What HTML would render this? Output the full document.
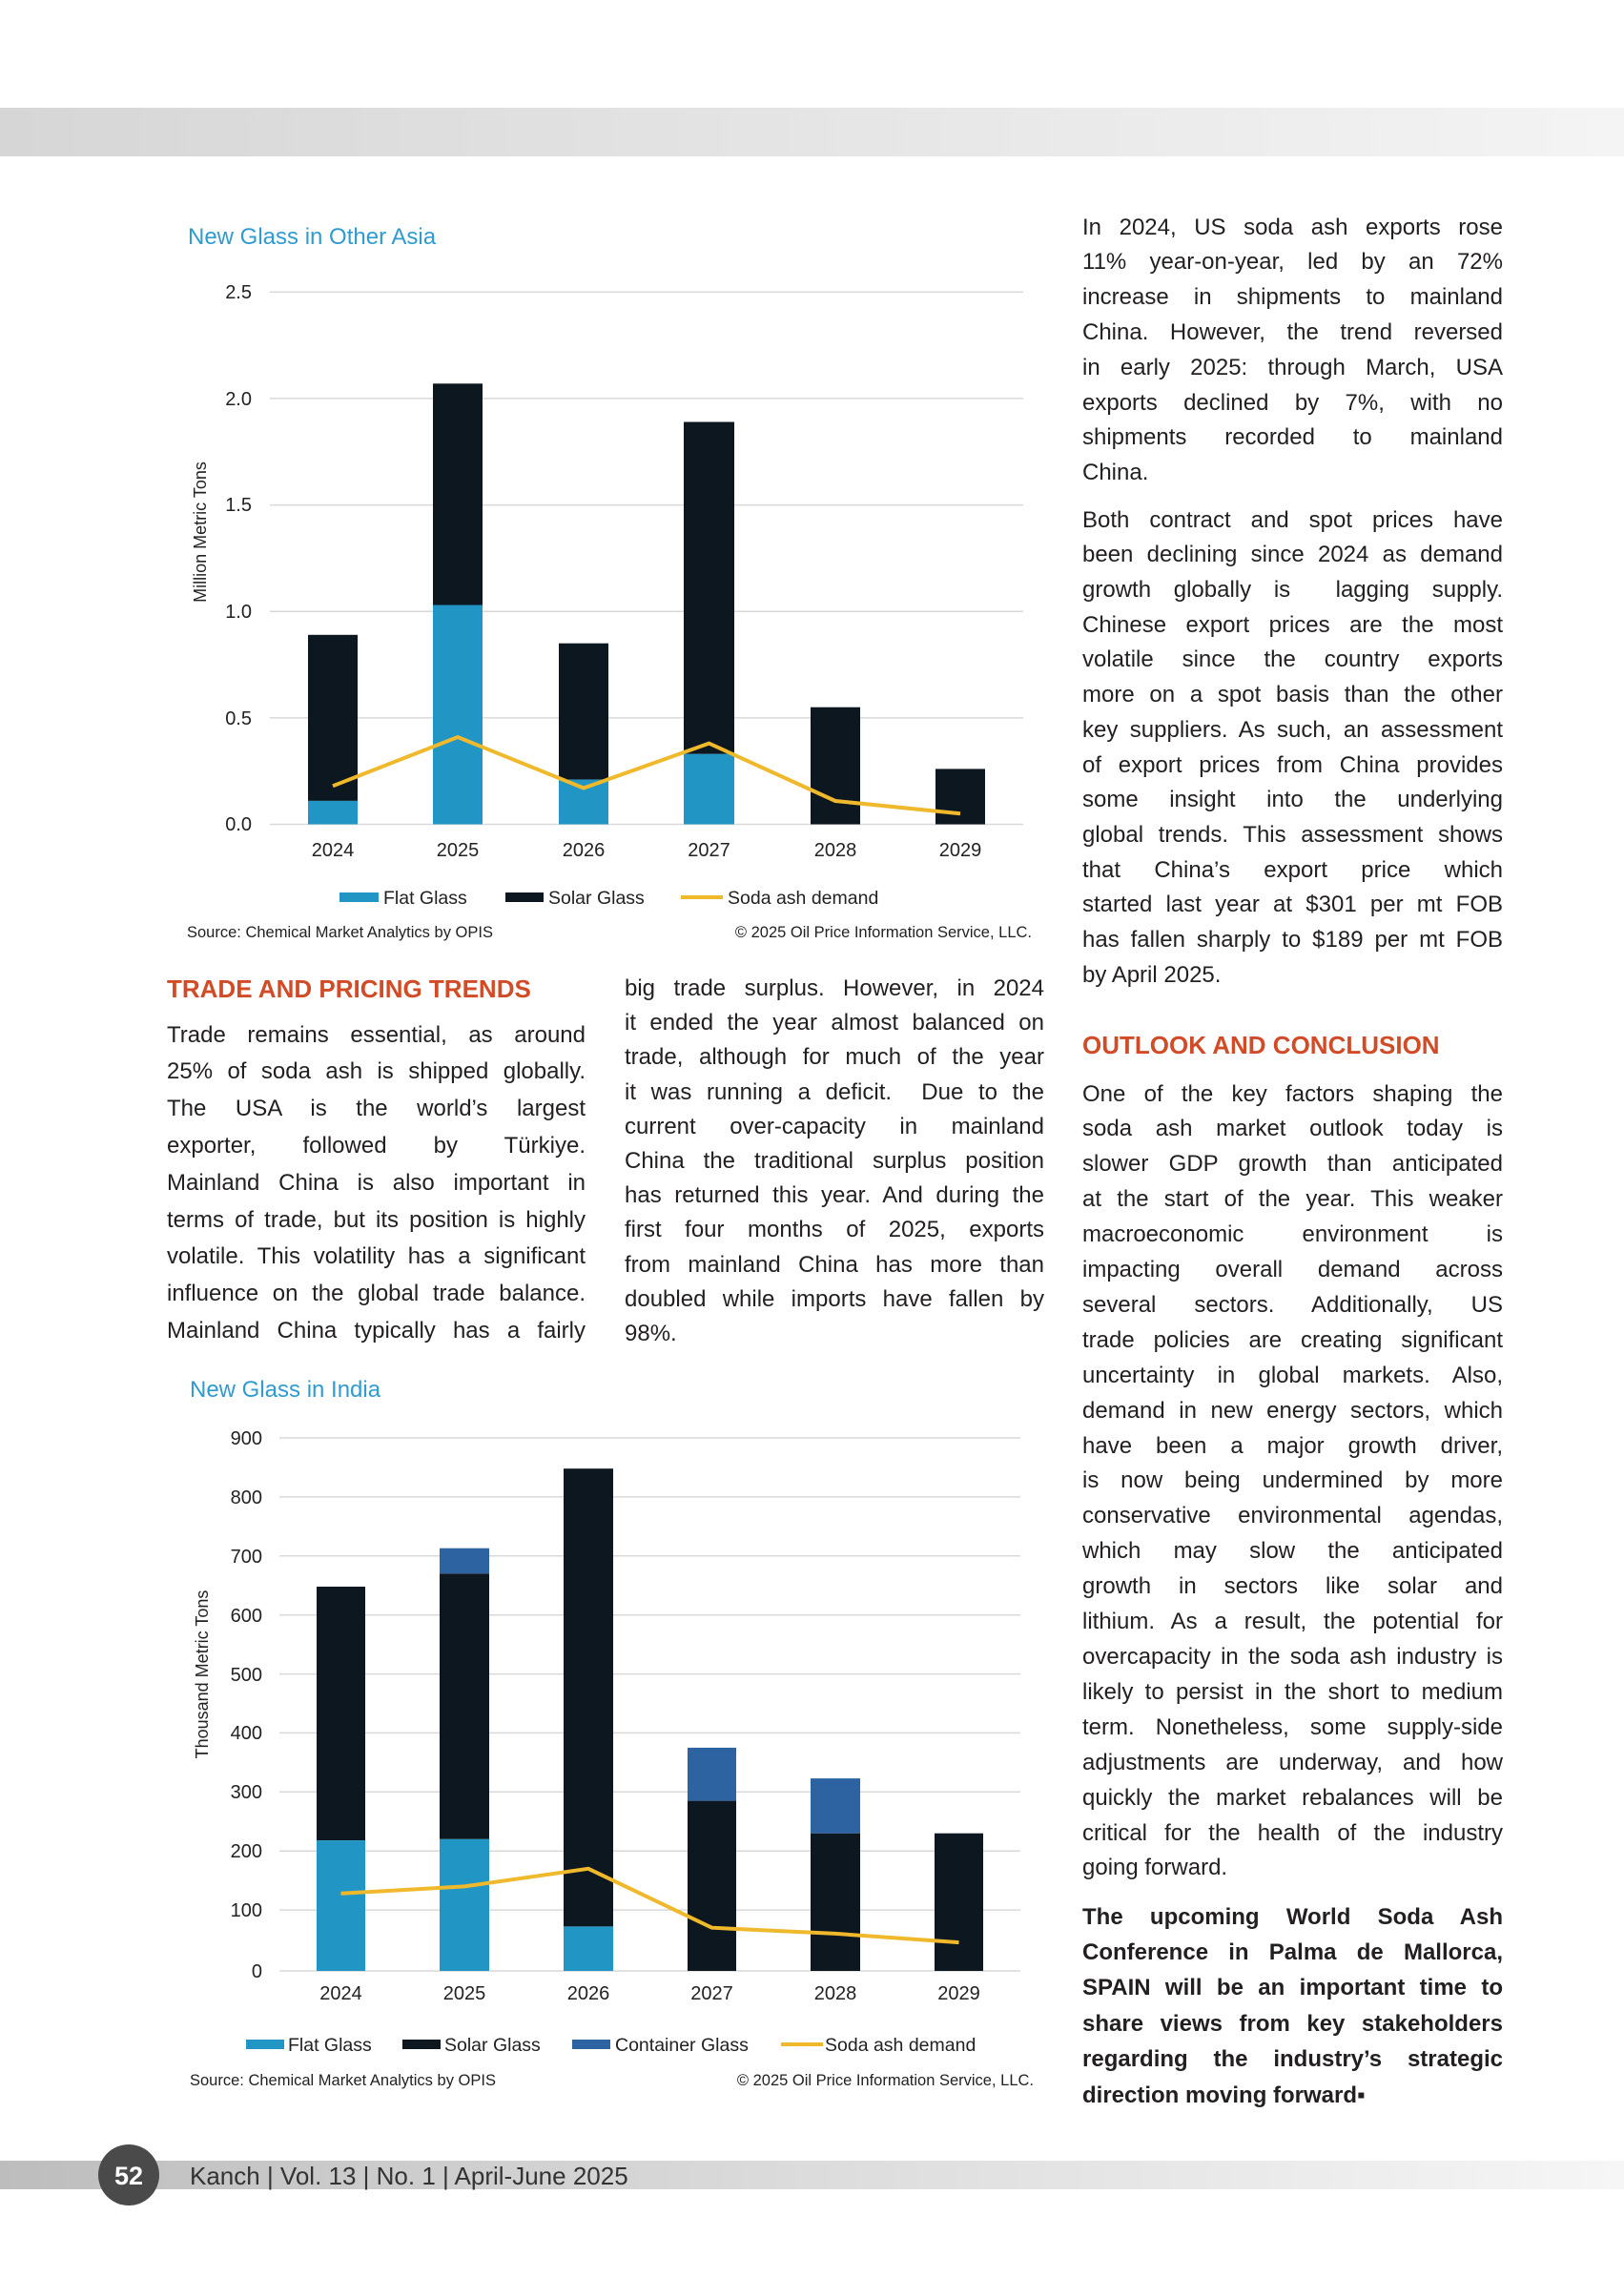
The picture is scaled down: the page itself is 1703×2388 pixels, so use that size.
<!DOCTYPE html>
<html><head><meta charset="utf-8">
<style>
html,body{margin:0;padding:0;background:#fff;}
body{width:1703px;height:2388px;position:relative;overflow:hidden;font-family:"Liberation Sans",sans-serif;color:#231f20;}
svg{position:absolute;left:0;top:0;}
.col{position:absolute;font-size:24px;}
.col div{white-space:nowrap;text-align:justify;text-align-last:justify;}
.col div.l{text-align-last:left;}
.h{position:absolute;font-weight:bold;color:#d24b27;font-size:26px;line-height:30px;}
</style></head><body>
<svg width="1703" height="2388" viewBox="0 0 1703 2388" font-family="Liberation Sans, sans-serif">
<defs>
<linearGradient id="g1" x1="0" x2="1"><stop offset="0" stop-color="#d6d6d6"/><stop offset="1" stop-color="#f4f4f4"/></linearGradient>
<linearGradient id="g2" x1="0" x2="1"><stop offset="0" stop-color="#bdbdbd"/><stop offset="0.5" stop-color="#dcdcdc"/><stop offset="1" stop-color="#f6f6f6"/></linearGradient>
</defs>
<rect x="0" y="113" width="1703" height="51" fill="url(#g1)"/>
<rect x="0" y="2266" width="1703" height="30" fill="url(#g2)"/>
<circle cx="135" cy="2281" r="32" fill="#4a4a4a"/>
<text x="135" y="2291" text-anchor="middle" font-size="27" font-weight="bold" fill="#fff">52</text>
<text x="199" y="2291" font-size="26" fill="#333">Kanch | Vol. 13 | No. 1 | April-June 2025</text>

<!-- Chart 1 -->
<text x="197" y="256" font-size="24" fill="#2f9bd0">New Glass in Other Asia</text>
<g stroke="#d9d9d9" stroke-width="1.5">
<line x1="283" x2="1073" y1="306.3" y2="306.3"/><line x1="283" x2="1073" y1="417.9" y2="417.9"/>
<line x1="283" x2="1073" y1="529.6" y2="529.6"/><line x1="283" x2="1073" y1="641.2" y2="641.2"/>
<line x1="283" x2="1073" y1="752.9" y2="752.9"/><line x1="283" x2="1073" y1="864.5" y2="864.5"/>
</g>
<g font-size="20" fill="#222" text-anchor="end">
<text x="264" y="313">2.5</text><text x="264" y="425">2.0</text><text x="264" y="536">1.5</text>
<text x="264" y="648">1.0</text><text x="264" y="760">0.5</text><text x="264" y="871">0.0</text>
</g>
<text transform="translate(216,558) rotate(-90)" text-anchor="middle" font-size="18" fill="#222">Million Metric Tons</text>
<g fill="#0d1720">
<rect x="323" y="665.8" width="52" height="174.1"/><rect x="454" y="402.3" width="52" height="232.2"/>
<rect x="586" y="674.7" width="52" height="142.9"/><rect x="717" y="442.5" width="53" height="348.3"/>
<rect x="850" y="741.7" width="52" height="122.8"/><rect x="981" y="806.4" width="52" height="58.1"/>
</g>
<g fill="#2196c4">
<rect x="323" y="839.9" width="52" height="24.6"/><rect x="454" y="634.5" width="52" height="230"/>
<rect x="586" y="817.6" width="52" height="46.9"/><rect x="717" y="790.8" width="53" height="73.7"/>
</g>
<polyline points="349,824.3 480,773 612,826.5 743.5,779.6 876,840 1007,853.3" fill="none" stroke="#f0b92b" stroke-width="4"/>
<g font-size="20" fill="#222" text-anchor="middle">
<text x="349" y="898">2024</text><text x="480" y="898">2025</text><text x="612" y="898">2026</text>
<text x="743.5" y="898">2027</text><text x="876" y="898">2028</text><text x="1007" y="898">2029</text>
</g>
<rect x="356" y="936" width="41" height="10" fill="#2196c4"/>
<rect x="530" y="936" width="40" height="10" fill="#0d1720"/>
<rect x="714" y="939" width="44" height="4" fill="#f0b92b"/>
<g font-size="19.5" fill="#222">
<text x="402" y="948">Flat Glass</text><text x="575" y="948">Solar Glass</text><text x="763" y="948">Soda ash demand</text>
</g>
<text x="196" y="983" font-size="16.5" fill="#222">Source: Chemical Market Analytics by OPIS</text>
<text x="1082" y="983" font-size="16.5" fill="#222" text-anchor="end">© 2025 Oil Price Information Service, LLC.</text>

<!-- Chart 2 -->
<text x="199" y="1465" font-size="24" fill="#2f9bd0">New Glass in India</text>
<g stroke="#d9d9d9" stroke-width="1.5">
<line x1="293" x2="1070" y1="1508" y2="1508"/><line x1="293" x2="1070" y1="1569.9" y2="1569.9"/>
<line x1="293" x2="1070" y1="1631.8" y2="1631.8"/><line x1="293" x2="1070" y1="1693.7" y2="1693.7"/>
<line x1="293" x2="1070" y1="1755.6" y2="1755.6"/><line x1="293" x2="1070" y1="1817.4" y2="1817.4"/>
<line x1="293" x2="1070" y1="1879.3" y2="1879.3"/><line x1="293" x2="1070" y1="1941.2" y2="1941.2"/>
<line x1="293" x2="1070" y1="2003.1" y2="2003.1"/><line x1="293" x2="1070" y1="2067" y2="2067"/>
</g>
<g font-size="20" fill="#222" text-anchor="end">
<text x="275" y="1515">900</text><text x="275" y="1577">800</text><text x="275" y="1639">700</text>
<text x="275" y="1701">600</text><text x="275" y="1763">500</text><text x="275" y="1824">400</text>
<text x="275" y="1886">300</text><text x="275" y="1948">200</text><text x="275" y="2010">100</text>
<text x="275" y="2074">0</text>
</g>
<text transform="translate(218,1756) rotate(-90)" text-anchor="middle" font-size="18" fill="#222">Thousand Metric Tons</text>
<g fill="#0d1720">
<rect x="332" y="1664" width="51" height="266.1"/><rect x="461" y="1650.3" width="52" height="278.5"/>
<rect x="591" y="1540.2" width="52" height="480.2"/><rect x="721" y="1888.6" width="51" height="178.4"/>
<rect x="850" y="1922.7" width="52" height="144.3"/><rect x="980" y="1922.7" width="51" height="144.3"/>
</g>
<g fill="#2196c4">
<rect x="332" y="1930.1" width="51" height="136.9"/><rect x="461" y="1928.8" width="52" height="138.2"/>
<rect x="591" y="2020.4" width="52" height="46.6"/>
</g>
<g fill="#2e63a1">
<rect x="461" y="1623.7" width="52" height="26.6"/><rect x="721" y="1832.9" width="51" height="55.7"/>
<rect x="850" y="1865.1" width="52" height="57.6"/>
</g>
<polyline points="357.5,1985.8 487,1978.4 617,1959.8 746.5,2021.7 876,2027.9 1005.5,2037.1" fill="none" stroke="#f0b92b" stroke-width="4"/>
<g font-size="20" fill="#222" text-anchor="middle">
<text x="357.5" y="2097">2024</text><text x="487" y="2097">2025</text><text x="617" y="2097">2026</text>
<text x="746.5" y="2097">2027</text><text x="876" y="2097">2028</text><text x="1005.5" y="2097">2029</text>
</g>
<rect x="258" y="2139" width="40" height="10" fill="#2196c4"/>
<rect x="422" y="2139" width="40" height="10" fill="#0d1720"/>
<rect x="600" y="2139" width="40" height="10" fill="#2e63a1"/>
<rect x="819" y="2142" width="44" height="4" fill="#f0b92b"/>
<g font-size="19.5" fill="#222">
<text x="302" y="2151">Flat Glass</text><text x="466" y="2151">Solar Glass</text>
<text x="645" y="2151">Container Glass</text><text x="865" y="2151">Soda ash demand</text>
</g>
<text x="199" y="2187" font-size="16.5" fill="#222">Source: Chemical Market Analytics by OPIS</text>
<text x="1084" y="2187" font-size="16.5" fill="#222" text-anchor="end">© 2025 Oil Price Information Service, LLC.</text>
</svg>

<div class="h" style="left:175px;top:1022px;">TRADE AND PRICING TRENDS</div>
<div class="col" style="left:175px;top:1066.6px;width:439px;line-height:38.8px;">
<div>Trade remains essential, as around</div>
<div>25% of soda ash is shipped globally.</div>
<div>The USA is the world’s largest</div>
<div>exporter, followed by Türkiye.</div>
<div>Mainland China is also important in</div>
<div>terms of trade, but its position is highly</div>
<div>volatile. This volatility has a significant</div>
<div>influence on the global trade balance.</div>
<div>Mainland China typically has a fairly</div>
</div>

<div class="col" style="left:655px;top:1019px;width:440px;line-height:36.2px;">
<div>big trade surplus. However, in 2024</div>
<div>it ended the year almost balanced on</div>
<div>trade, although for much of the year</div>
<div>it was running a deficit.&nbsp; Due to the</div>
<div>current over-capacity in mainland</div>
<div>China the traditional surplus position</div>
<div>has returned this year. And during the</div>
<div>first four months of 2025, exports</div>
<div>from mainland China has more than</div>
<div>doubled while imports have fallen by</div>
<div class="l">98%.</div>
</div>

<div class="col" style="left:1135px;top:220.6px;width:441px;line-height:36.8px;">
<div>In 2024, US soda ash exports rose</div>
<div>11% year-on-year, led by an 72%</div>
<div>increase in shipments to mainland</div>
<div>China. However, the trend reversed</div>
<div>in early 2025: through March, USA</div>
<div>exports declined by 7%, with no</div>
<div>shipments recorded to mainland</div>
<div class="l">China.</div>
</div>
<div class="col" style="left:1135px;top:527.6px;width:441px;line-height:36.7px;">
<div>Both contract and spot prices have</div>
<div>been declining since 2024 as demand</div>
<div>growth globally is&nbsp; lagging supply.</div>
<div>Chinese export prices are the most</div>
<div>volatile since the country exports</div>
<div>more on a spot basis than the other</div>
<div>key suppliers. As such, an assessment</div>
<div>of export prices from China provides</div>
<div>some insight into the underlying</div>
<div>global trends. This assessment shows</div>
<div>that China’s export price which</div>
<div>started last year at $301 per mt FOB</div>
<div>has fallen sharply to $189 per mt FOB</div>
<div class="l">by April 2025.</div>
</div>
<div class="h" style="left:1135px;top:1081px;">OUTLOOK AND CONCLUSION</div>
<div class="col" style="left:1135px;top:1129.5px;width:441px;line-height:36.9px;">
<div>One of the key factors shaping the</div>
<div>soda ash market outlook today is</div>
<div>slower GDP growth than anticipated</div>
<div>at the start of the year. This weaker</div>
<div>macroeconomic environment is</div>
<div>impacting overall demand across</div>
<div>several sectors. Additionally, US</div>
<div>trade policies are creating significant</div>
<div>uncertainty in global markets. Also,</div>
<div>demand in new energy sectors, which</div>
<div>have been a major growth driver,</div>
<div>is now being undermined by more</div>
<div>conservative environmental agendas,</div>
<div>which may slow the anticipated</div>
<div>growth in sectors like solar and</div>
<div>lithium. As a result, the potential for</div>
<div>overcapacity in the soda ash industry is</div>
<div>likely to persist in the short to medium</div>
<div>term. Nonetheless, some supply-side</div>
<div>adjustments are underway, and how</div>
<div>quickly the market rebalances will be</div>
<div>critical for the health of the industry</div>
<div class="l">going forward.</div>
</div>
<div class="col" style="left:1135px;top:1991.5px;width:441px;line-height:37.4px;font-weight:bold;">
<div>The upcoming World Soda Ash</div>
<div>Conference in Palma de Mallorca,</div>
<div>SPAIN will be an important time to</div>
<div>share views from key stakeholders</div>
<div>regarding the industry’s strategic</div>
<div class="l">direction moving forward▪</div>
</div>
</body></html>
